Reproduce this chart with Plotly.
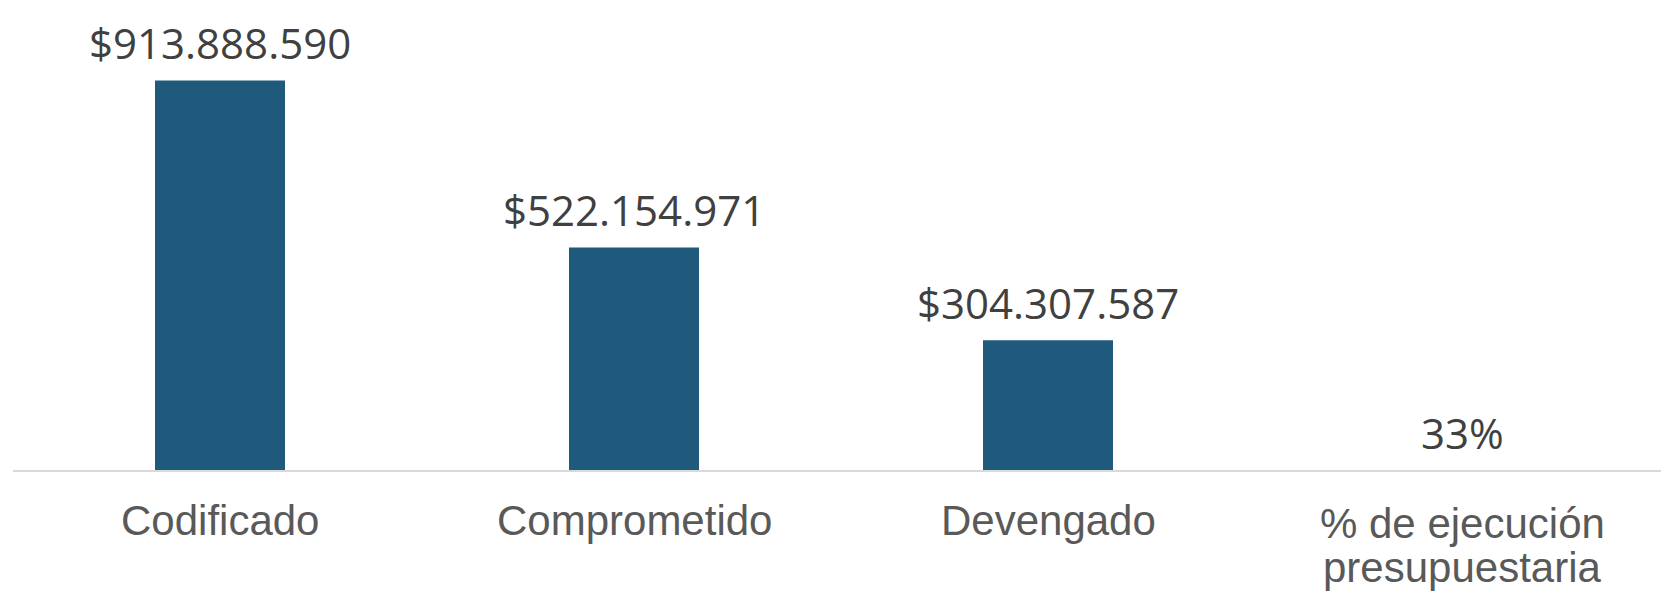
import plotly.graph_objects as go

categories = ["Codificado", "Comprometido", "Devengado", "% de ejecución<br>presupuestaria"]
values = [913888590, 522154971, 304307587, 0.33]
value_labels = ["$913.888.590", "$522.154.971", "$304.307.587", "33%"]

BAR_COLOR = "#1F5A7C"

fig = go.Figure()
fig.add_trace(go.Bar(
    x=categories,
    y=values,
    marker=dict(color=BAR_COLOR, line=dict(width=0)),
    hoverinfo="skip",
))

# value labels above bars
for c, v, t in zip(categories, values, value_labels):
    fig.add_annotation(
        x=c, y=v, text=t, showarrow=False, yanchor="bottom", yshift=7,
        font=dict(family="Open Sans", size=42, color="#404040"),
    )

# category labels under the axis (tight line spacing like the original)
for c in categories:
    parts = c.split("<br>")
    first = -24.5 if len(parts) == 1 else -28
    for i, line in enumerate(parts):
        fig.add_annotation(
            x=c, y=0, text=line, showarrow=False, yanchor="top",
            yshift=first - 44 * i,
            font=dict(family="Liberation Sans, Arial", size=42, color="#595959"),
        )

# the page body adds an 8px margin, so the figure is sized to fit the window
fig.update_layout(
    width=1661, height=585,
    margin=dict(l=5, r=0, t=0, b=122.5, autoexpand=False),
    paper_bgcolor="white", plot_bgcolor="white",
    bargap=0.686,
    showlegend=False,
    xaxis=dict(
        showline=True, linecolor="#D9D9D9", linewidth=2,
        showgrid=False, zeroline=False, automargin=False,
        showticklabels=False, ticks="",
    ),
    yaxis=dict(
        visible=False, range=[0, 1.084e9], showgrid=False, zeroline=False,
        automargin=False,
    ),
)

fig.write_html("out.html")
